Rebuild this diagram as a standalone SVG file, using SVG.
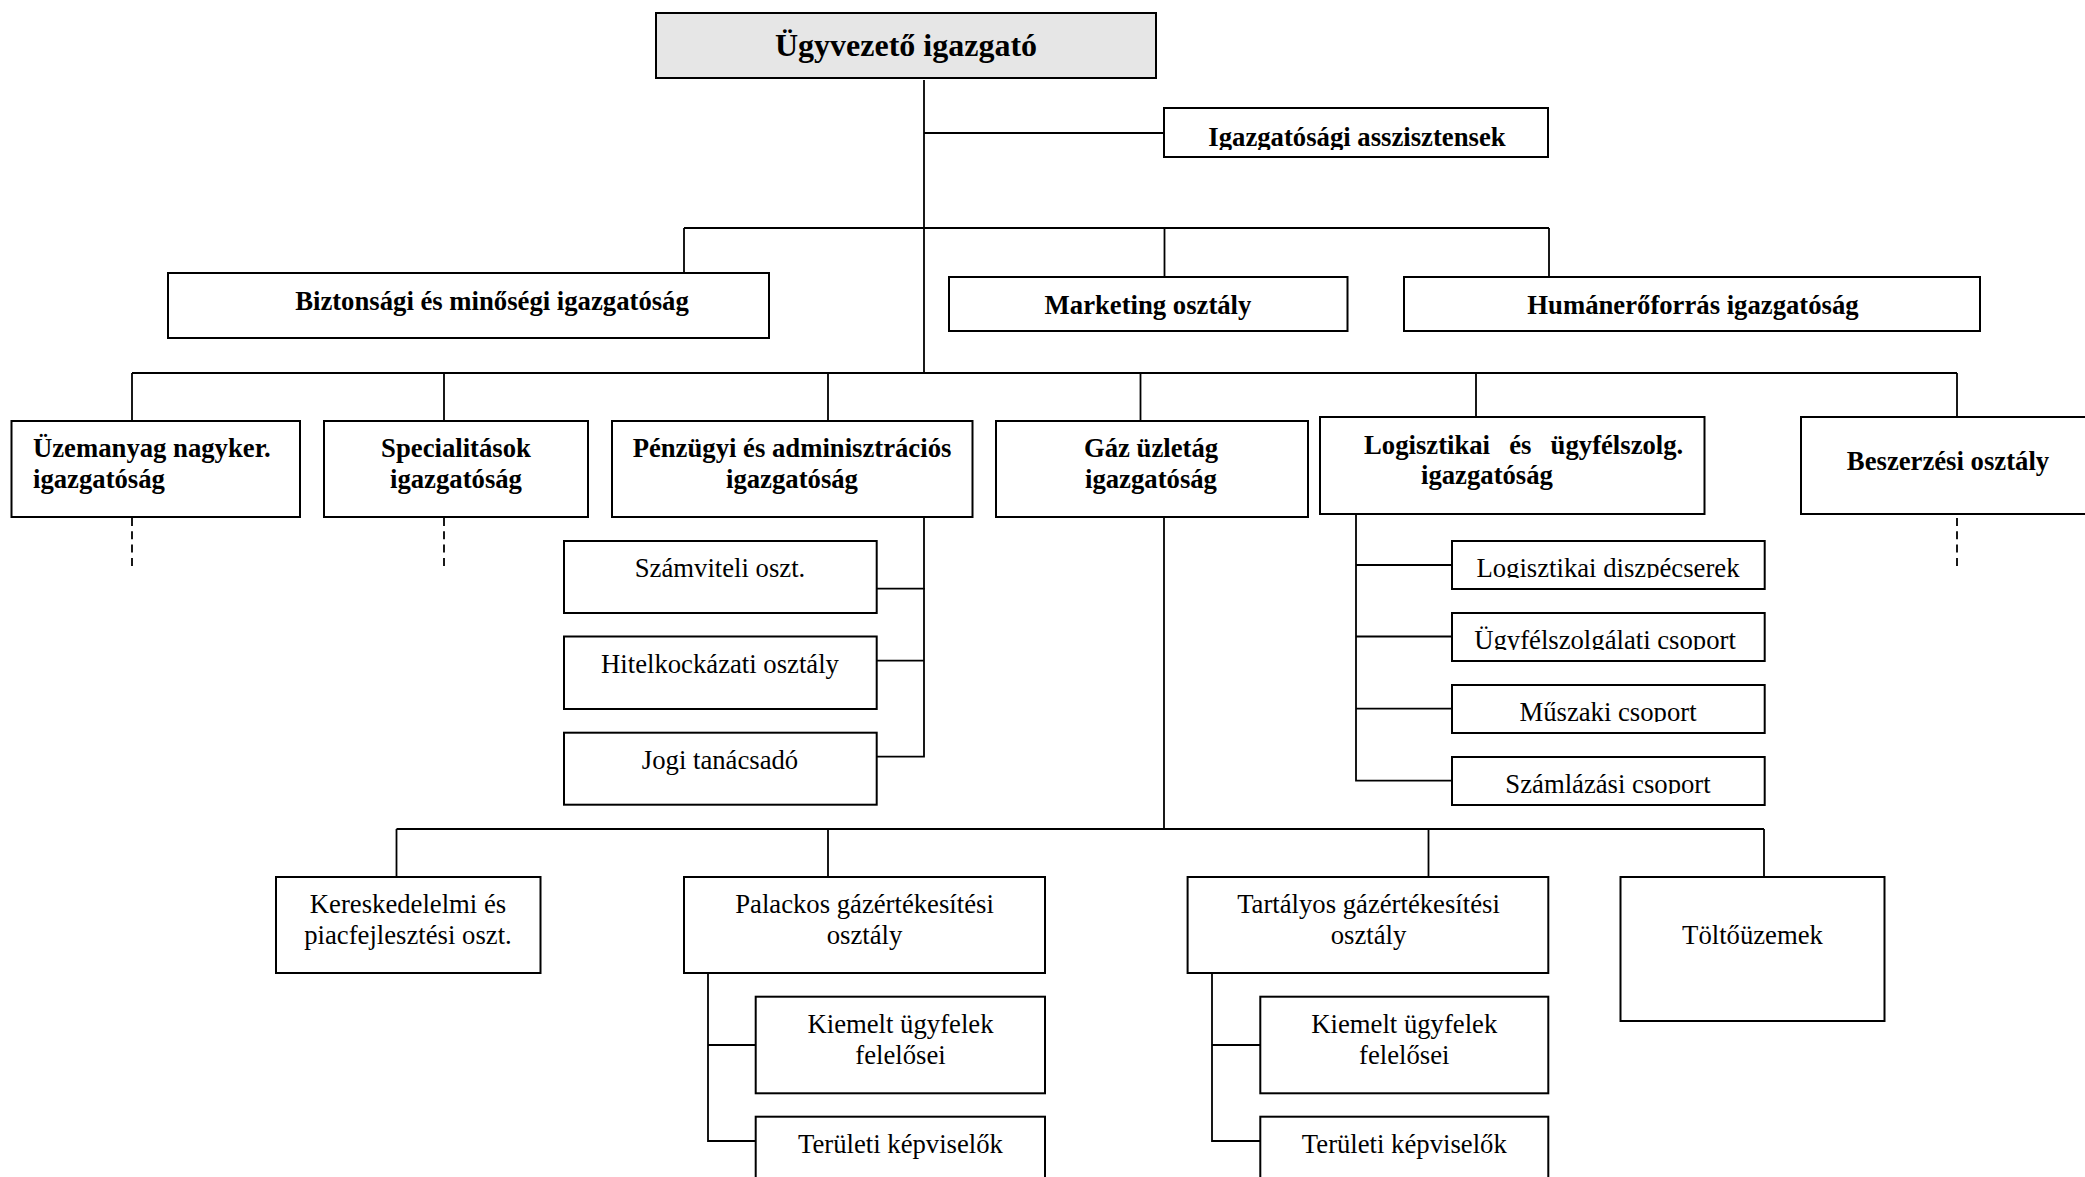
<svg xmlns="http://www.w3.org/2000/svg" width="2085" height="1177" viewBox="0 0 2085 1177">
<style>
  .box{fill:#ffffff;stroke:#000000;stroke-width:2}
  .top{fill:#e6e6e6;stroke:#000000;stroke-width:2}
  .b{font-family:"Liberation Serif","Times New Roman",serif;font-weight:bold;font-size:26.7px;fill:#000}
  .t{font-family:"Liberation Serif","Times New Roman",serif;font-weight:bold;font-size:32px;fill:#000}
  .r{font-family:"Liberation Serif","Times New Roman",serif;font-size:26.7px;fill:#000}
  .c{text-anchor:middle}
  .ln{fill:none;stroke:#000000;stroke-width:1.8}
  .dash{fill:none;stroke:#000000;stroke-width:1.8;stroke-dasharray:8 5.3}
</style>
<defs>
  <clipPath id="clipAs"><rect x="1164" y="108" width="384" height="42"/></clipPath>
  <clipPath id="clipL1"><rect x="1452" y="541" width="313" height="37"/></clipPath>
  <clipPath id="clipL2"><rect x="1452" y="613" width="313" height="37"/></clipPath>
  <clipPath id="clipL3"><rect x="1452" y="685" width="313" height="37"/></clipPath>
  <clipPath id="clipL4"><rect x="1452" y="757" width="313" height="37"/></clipPath>
</defs>

<g id="connectors">
  <line class="ln" x1="924" y1="80" x2="924" y2="373"/>
  <line class="ln" x1="924" y1="133" x2="1164" y2="133"/>
  <line class="ln" x1="684" y1="228" x2="1549" y2="228"/>
  <line class="ln" x1="684" y1="228" x2="684" y2="273"/>
  <line class="ln" x1="1164.5" y1="228" x2="1164.5" y2="277"/>
  <line class="ln" x1="1549" y1="228" x2="1549" y2="277"/>
  <line class="ln" x1="132" y1="373" x2="1957" y2="373"/>
  <line class="ln" x1="132" y1="373" x2="132" y2="421"/>
  <line class="ln" x1="444" y1="373" x2="444" y2="421"/>
  <line class="ln" x1="828" y1="373" x2="828" y2="421"/>
  <line class="ln" x1="1140.5" y1="373" x2="1140.5" y2="421"/>
  <line class="ln" x1="1476" y1="373" x2="1476" y2="417"/>
  <line class="ln" x1="1957" y1="373" x2="1957" y2="417"/>
  <line class="dash" x1="132" y1="518" x2="132" y2="566"/>
  <line class="dash" x1="444" y1="518" x2="444" y2="566"/>
  <line class="dash" x1="1957" y1="518" x2="1957" y2="566"/>
  <polyline class="ln" points="876.7,588.7 924,588.7 924,517"/>
  <line class="ln" x1="876.7" y1="660.7" x2="924" y2="660.7"/>
  <polyline class="ln" points="876.7,756.7 924,756.7 924,588"/>
  <line class="ln" x1="1164" y1="517" x2="1164" y2="829"/>
  <line class="ln" x1="396.5" y1="829" x2="1764" y2="829"/>
  <line class="ln" x1="396.5" y1="829" x2="396.5" y2="877"/>
  <line class="ln" x1="828" y1="829" x2="828" y2="877"/>
  <line class="ln" x1="1428.5" y1="829" x2="1428.5" y2="877"/>
  <line class="ln" x1="1764" y1="829" x2="1764" y2="877"/>
  <polyline class="ln" points="708,973 708,1141 755.7,1141"/>
  <line class="ln" x1="708" y1="1045" x2="755.7" y2="1045"/>
  <polyline class="ln" points="1212,973 1212,1141 1260.3,1141"/>
  <line class="ln" x1="1212" y1="1045" x2="1260.3" y2="1045"/>
  <polyline class="ln" points="1356,514 1356,780.7 1452,780.7"/>
  <line class="ln" x1="1356" y1="565" x2="1452" y2="565"/>
  <line class="ln" x1="1356" y1="636.5" x2="1452" y2="636.5"/>
  <line class="ln" x1="1356" y1="708.7" x2="1452" y2="708.7"/>
</g>

<g id="ugyvezeto">
  <rect class="top" x="656" y="13" width="500" height="65"/>
  <text class="t c" x="906" y="56">Ügyvezető igazgató</text>
</g>
<g id="asszisztensek">
  <rect class="box" x="1164" y="108" width="384" height="49"/>
  <text class="b c" x="1357" y="146" clip-path="url(#clipAs)">Igazgatósági asszisztensek</text>
</g>
<g id="biztonsagi">
  <rect class="box" x="168" y="273" width="601" height="65"/>
  <text class="b c" x="492" y="310">Biztonsági és minőségi igazgatóság</text>
</g>
<g id="marketing">
  <rect class="box" x="949" y="277" width="398.5" height="54"/>
  <text class="b c" x="1148" y="313.5">Marketing osztály</text>
</g>
<g id="human">
  <rect class="box" x="1404" y="277" width="576" height="54"/>
  <text class="b c" x="1693" y="313.5">Humánerőforrás igazgatóság</text>
</g>

<g id="uzemanyag">
  <rect class="box" x="11.5" y="421" width="288.5" height="96"/>
  <text class="b" x="33" y="457">Üzemanyag nagyker.</text>
  <text class="b" x="33" y="488">igazgatóság</text>
</g>
<g id="specialitasok">
  <rect class="box" x="324" y="421" width="264" height="96"/>
  <text class="b c" x="456" y="457">Specialitások</text>
  <text class="b c" x="456" y="488">igazgatóság</text>
</g>
<g id="penzugyi">
  <rect class="box" x="612" y="421" width="360.5" height="96"/>
  <text class="b c" x="792" y="457">Pénzügyi és adminisztrációs</text>
  <text class="b c" x="792" y="488">igazgatóság</text>
</g>
<g id="gaz">
  <rect class="box" x="996" y="421" width="312" height="96"/>
  <text class="b c" x="1151" y="457">Gáz üzletág</text>
  <text class="b c" x="1151" y="488">igazgatóság</text>
</g>
<g id="logisztikai">
  <rect class="box" x="1320" y="417" width="384.5" height="97"/>
  <text class="b" x="1364" y="454" word-spacing="12.5">Logisztikai és ügyfélszolg.</text>
  <text class="b" x="1421" y="484">igazgatóság</text>
</g>
<g id="beszerzesi">
  <rect class="box" x="1801" y="417" width="300" height="97"/>
  <text class="b c" x="1948" y="470">Beszerzési osztály</text>
</g>

<g id="szamviteli">
  <rect class="box" x="564" y="541" width="312.7" height="72"/>
  <text class="r c" x="720" y="577">Számviteli oszt.</text>
</g>
<g id="hitelkockazati">
  <rect class="box" x="564" y="636.5" width="312.7" height="72.5"/>
  <text class="r c" x="720" y="672.5">Hitelkockázati osztály</text>
</g>
<g id="jogi">
  <rect class="box" x="564" y="732.7" width="312.7" height="72"/>
  <text class="r c" x="720" y="768.7">Jogi tanácsadó</text>
</g>

<g id="diszpecserek">
  <rect class="box" x="1452" y="541" width="312.7" height="48"/>
  <text class="r c" x="1608" y="576.5" clip-path="url(#clipL1)">Logisztikai diszpécserek</text>
</g>
<g id="ugyfelszolgalati">
  <rect class="box" x="1452" y="613" width="312.7" height="48"/>
  <text class="r c" x="1605" y="648.5" clip-path="url(#clipL2)">Ügyfélszolgálati csoport</text>
</g>
<g id="muszaki">
  <rect class="box" x="1452" y="685" width="312.7" height="48"/>
  <text class="r c" x="1608" y="720.5" clip-path="url(#clipL3)">Műszaki csoport</text>
</g>
<g id="szamlazasi">
  <rect class="box" x="1452" y="757" width="312.7" height="48"/>
  <text class="r c" x="1608" y="792.5" clip-path="url(#clipL4)">Számlázási csoport</text>
</g>

<g id="kereskedelmi">
  <rect class="box" x="276" y="877" width="264.5" height="96"/>
  <text class="r c" x="408" y="912.5">Kereskedelelmi és</text>
  <text class="r c" x="408" y="943.5">piacfejlesztési oszt.</text>
</g>
<g id="palackos">
  <rect class="box" x="684" y="877" width="361" height="96"/>
  <text class="r c" x="864.5" y="912.5">Palackos gázértékesítési</text>
  <text class="r c" x="864.5" y="943.5">osztály</text>
</g>
<g id="tartalyos">
  <rect class="box" x="1187.6" y="877" width="360.7" height="96"/>
  <text class="r c" x="1368.5" y="912.5">Tartályos gázértékesítési</text>
  <text class="r c" x="1368.5" y="943.5">osztály</text>
</g>
<g id="toltouzemek">
  <rect class="box" x="1620.5" y="877" width="264" height="144"/>
  <text class="r c" x="1752.5" y="943.5">Töltőüzemek</text>
</g>
<g id="kiemelt1">
  <rect class="box" x="755.7" y="996.7" width="289.3" height="96.6"/>
  <text class="r c" x="900.5" y="1032.5">Kiemelt ügyfelek</text>
  <text class="r c" x="900.5" y="1063.5">felelősei</text>
</g>
<g id="teruleti1">
  <rect class="box" x="755.7" y="1116.7" width="289.3" height="96"/>
  <text class="r c" x="900.5" y="1152.5">Területi képviselők</text>
</g>
<g id="kiemelt2">
  <rect class="box" x="1260.3" y="996.7" width="288" height="96.6"/>
  <text class="r c" x="1404.3" y="1032.5">Kiemelt ügyfelek</text>
  <text class="r c" x="1404.3" y="1063.5">felelősei</text>
</g>
<g id="teruleti2">
  <rect class="box" x="1260.3" y="1116.7" width="288" height="96"/>
  <text class="r c" x="1404.3" y="1152.5">Területi képviselők</text>
</g>
</svg>
